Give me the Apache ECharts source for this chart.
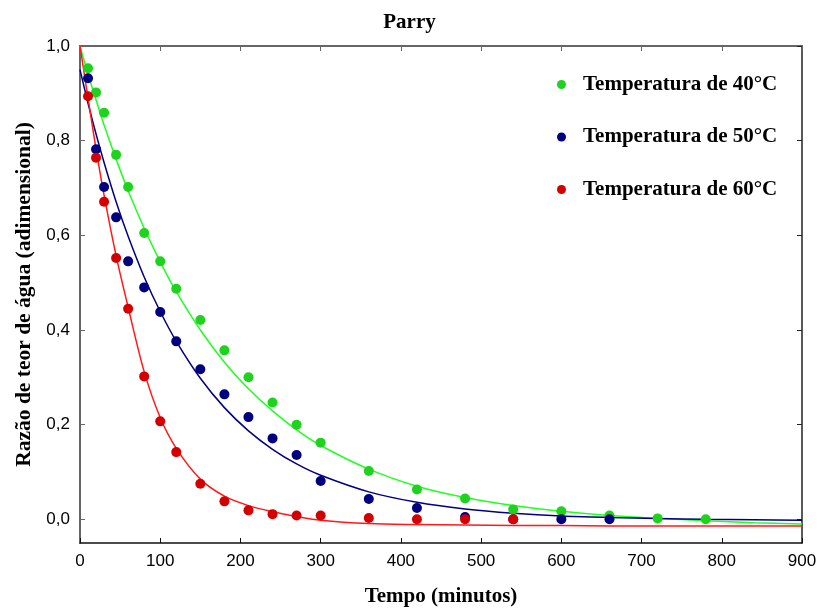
<!DOCTYPE html>
<html>
<head>
<meta charset="utf-8">
<script src="https://cdn.jsdelivr.net/npm/echarts@6/dist/echarts.min.js"></script>
<style>
  html, body { margin: 0; padding: 0; background: #fff; }
  #chart { width: 819px; height: 608px; }
</style>
</head>
<body>
<div id="chart"></div>
<script>
// measured points (tempo em minutos)
var tempos40 = [10, 20, 30, 45, 60, 80, 100, 120, 150, 180, 210, 240, 270, 300, 360, 420, 480, 540, 600, 660, 720, 780];
var razao40 = [0.953, 0.902, 0.859, 0.770, 0.702, 0.605, 0.545, 0.487, 0.421, 0.357, 0.300, 0.247, 0.200, 0.162, 0.102, 0.063, 0.044, 0.021, 0.017, 0.008, 0.002, 0.000];

var tempos50 = [10, 20, 30, 45, 60, 80, 100, 120, 150, 180, 210, 240, 270, 300, 360, 420, 480, 540, 600, 660];
var razao50 = [0.932, 0.782, 0.702, 0.638, 0.545, 0.490, 0.438, 0.376, 0.317, 0.264, 0.216, 0.171, 0.136, 0.081, 0.043, 0.024, 0.005, 0.000, 0.000, 0.000];

var tempos60 = [10, 20, 30, 45, 60, 80, 100, 120, 150, 180, 210, 240, 270, 300, 360, 420, 480, 540];
var razao60 = [0.894, 0.764, 0.671, 0.552, 0.445, 0.302, 0.207, 0.142, 0.075, 0.038, 0.019, 0.011, 0.008, 0.008, 0.003, 0.000, 0.000, 0.000];

// fitted curves
var temposCurva = [0, 10, 20, 30, 45, 60, 80, 100, 120, 150, 180, 210, 240, 270, 300, 360, 420, 480, 540, 600, 660, 720, 780, 840, 900];
var curva40 = [1.000, 0.941, 0.886, 0.833, 0.761, 0.694, 0.615, 0.544, 0.481, 0.400, 0.332, 0.276, 0.229, 0.189, 0.156, 0.106, 0.070, 0.046, 0.029, 0.017, 0.008, 0.002, -0.003, -0.007, -0.010];
var curva50 = [0.950, 0.879, 0.814, 0.754, 0.671, 0.598, 0.512, 0.439, 0.376, 0.298, 0.236, 0.187, 0.148, 0.117, 0.093, 0.058, 0.036, 0.022, 0.013, 0.007, 0.004, 0.002, 0.000, -0.001, -0.002];
var curva60 = [1.000, 0.890, 0.782, 0.685, 0.557, 0.448, 0.312, 0.215, 0.150, 0.085, 0.049, 0.029, 0.016, 0.006, -0.002, -0.009, -0.011, -0.012, -0.013, -0.013, -0.014, -0.014, -0.014, -0.014, -0.014];

var xTicks = [0, 100, 200, 300, 400, 500, 600, 700, 800, 900];
var yTicks = [0, 0.2, 0.4, 0.6, 0.8, 1.0];

var nomes = ['Temperatura de 40°C', 'Temperatura de 50°C', 'Temperatura de 60°C'];

function pares(xs, ys) {
  return xs.map(function (x, i) { return [x, ys[i]]; });
}

var serif = '"Liberation Serif", "Times New Roman", serif';
var sans = '"Liberation Sans", Arial, sans-serif';

var chartDom = document.getElementById('chart');
var myChart = echarts.init(chartDom);
var option;

function eixoX(pos, cor, largura, comNome) {
  return {
    type: 'value', position: pos, min: 0, max: 900, interval: 100,
    name: comNome ? 'Tempo (minutos)' : '',
    nameLocation: 'middle', nameGap: 43,
    nameTextStyle: { fontFamily: serif, fontWeight: 'bold', fontSize: 21, color: '#000' },
    axisLine: { show: true, onZero: false, lineStyle: { color: cor, width: largura } },
    axisTick: { show: true, inside: true, length: 5, lineStyle: { color: cor } },
    axisLabel: { show: comNome, fontFamily: sans, fontSize: 17, color: '#000', margin: 10 },
    splitLine: { show: false }
  };
}

function eixoY(pos, cor, largura, comNome) {
  return {
    type: 'value', position: pos, min: -0.05, max: 1.0,
    name: comNome ? 'Razão de teor de água (adimensional)' : '',
    nameLocation: 'middle', nameGap: 45, nameRotate: 90,
    nameTextStyle: { fontFamily: serif, fontWeight: 'bold', fontSize: 21.5, color: '#000' },
    axisLine: { show: true, onZero: false, lineStyle: { color: cor, width: largura } },
    axisTick: { show: true, inside: true, length: 5, customValues: yTicks, lineStyle: { color: cor } },
    axisLabel: {
      show: comNome, customValues: yTicks, fontFamily: sans, fontSize: 17, color: '#000', margin: 10,
      formatter: function (v) { return v.toFixed(1).replace('.', ','); }
    },
    splitLine: { show: false }
  };
}

function curva(ys, cor) {
  return {
    type: 'line', data: pares(temposCurva, ys), smooth: 0.3, showSymbol: false,
    lineStyle: { color: cor, width: 1.5 }, silent: true, z: 2
  };
}

function pontos(nome, xs, ys, cor) {
  return {
    name: nome, type: 'scatter', data: pares(xs, ys), symbolSize: 10,
    itemStyle: { color: cor, opacity: 1 }, z: 3
  };
}

option = {
  animation: false,
  backgroundColor: '#fff',
  title: {
    text: 'Parry', left: 'center', top: 7,
    textStyle: { fontFamily: serif, fontWeight: 'bold', fontSize: 21, color: '#000' }
  },
  legend: {
    data: nomes, orient: 'vertical', left: 552, top: 69,
    icon: 'circle', itemWidth: 9, itemHeight: 9, itemGap: 31.5,
    textStyle: { fontFamily: serif, fontWeight: 'bold', fontSize: 21, color: '#000', padding: [0, 0, 0, 12] }
  },
  grid: { left: 80, right: 17, top: 46, bottom: 65, outerBoundsMode: 'none', containLabel: false },
  xAxis: [eixoX('bottom', '#111', 1.5, true), eixoX('top', '#666', 2, false)],
  yAxis: [eixoY('left', '#666', 2, true), eixoY('right', '#222', 1.5, false)],
  series: [
    curva(curva40, '#22ff22'),
    curva(curva50, '#000080'),
    curva(curva60, '#ff1a1a'),
    pontos(nomes[0], tempos40, razao40, '#1ed21e'),
    pontos(nomes[1], tempos50, razao50, '#000080'),
    pontos(nomes[2], tempos60, razao60, '#d40000')
  ]
};

option && myChart.setOption(option);
</script>
</body>
</html>
